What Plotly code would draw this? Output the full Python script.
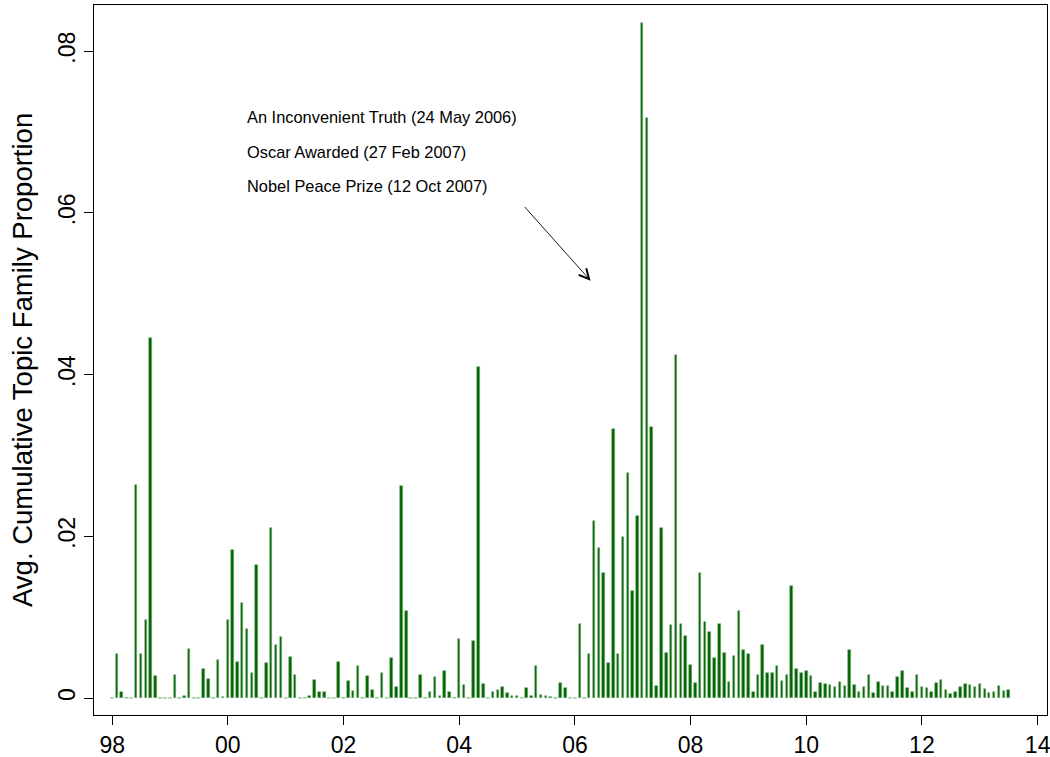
import pandas as pd
import plotly.graph_objects as go

# Monthly values, Jan 1998 .. Jul 2013 (one row per year)
values = [
    0, 0.0054, 0.00074, 0, 0, 0.0263, 0.0054, 0.0097, 0.0445, 0.0027, 0, 0,          # 1998
    0, 0.0029, 0, 0.0002, 0.0061, 0, 0, 0.0036, 0.0024, 0, 0.0047, 0.0001,           # 1999
    0.0097, 0.0183, 0.0045, 0.0118, 0.0085, 0.0031, 0.0165, 0, 0.0043, 0.0210, 0.0065, 0.0075,  # 2000
    0, 0.0051, 0.0028, 0, 0, 0.0003, 0.0022, 0.0007, 0.0007, 0, 0, 0.0045,           # 2001
    0, 0.0021, 0.0009, 0.0040, 0, 0.0027, 0.0010, 0, 0.0031, 0, 0.0050, 0.0014,      # 2002
    0.0262, 0.0108, 0, 0, 0.0029, 0, 0.0008, 0.0026, 0.0003, 0.0034, 0.0007, 0,      # 2003
    0.0073, 0.0016, 0, 0.0071, 0.0409, 0.0017, 0, 0.0007, 0.0010, 0.0014, 0.0006, 0.0003,  # 2004
    0.0003, 0, 0.0013, 0.0003, 0.0039, 0.0004, 0.0002, 0.0001, 0, 0.0019, 0.0013, 0,  # 2005
    0, 0.0091, 0, 0.0054, 0.0219, 0.0185, 0.0154, 0.0043, 0.0333, 0.0055, 0.0199, 0.0278,  # 2006
    0.0132, 0.0225, 0.0835, 0.0717, 0.0335, 0.0015, 0.0210, 0.0056, 0.0090, 0.0424, 0.0091, 0.0077,  # 2007
    0.0041, 0.0019, 0.0155, 0.0094, 0.0082, 0.0050, 0.0092, 0.0056, 0.0020, 0.0052, 0.0107, 0.0060,  # 2008
    0.0054, 0.0008, 0.0029, 0.0066, 0.0031, 0.0031, 0.0040, 0.0021, 0.0028, 0.0139, 0.0036, 0.0031,  # 2009
    0.0033, 0.0027, 0.0008, 0.0018, 0.0017, 0.0016, 0.0014, 0.0020, 0.0015, 0.0059, 0.0016, 0.0008,  # 2010
    0.0014, 0.0029, 0.0006, 0.0020, 0.0015, 0.0015, 0.0007, 0.0026, 0.0034, 0.0013, 0.0008, 0.0029,  # 2011
    0.0014, 0.0013, 0.0007, 0.0019, 0.0022, 0.0010, 0.0005, 0.0007, 0.0014, 0.0017, 0.0016, 0.0014,  # 2012
    0.0017, 0.0011, 0.0006, 0.0007, 0.0015, 0.0009, 0.0010,                          # 2013
]
months = pd.date_range("1998-01-01", periods=len(values), freq="MS")

x_tick_years = [1998, 2000, 2002, 2004, 2006, 2008, 2010, 2012, 2014]
x_tick_labels = ["98", "00", "02", "04", "06", "08", "10", "12", "14"]
y_tick_vals = [0, 0.02, 0.04, 0.06, 0.08]
y_tick_labels = ["0", ".02", ".04", ".06", ".08"]
y_title = "Avg. Cumulative Topic Family Proportion"

notes = [
    "An Inconvenient Truth (24 May 2006)",
    "Oscar Awarded (27 Feb 2007)",
    "Nobel Peace Prize (12 Oct 2007)",
]
note_y = [0.0719, 0.0675, 0.0633]

BAR = "#006400"
FONT = "Liberation Sans, Arial, sans-serif"

zero_months = [m for m, v in zip(months, values) if v == 0]

fig = go.Figure()
fig.add_trace(go.Bar(
    x=months, y=values,
    width=16 * 86400000,
    marker=dict(color=BAR, line=dict(width=0.6, color="#7fb27f")),
    showlegend=False,
))
fig.add_trace(go.Scatter(
    x=zero_months, y=[0] * len(zero_months), mode="markers",
    marker=dict(symbol="line-ew", size=3, line=dict(width=1, color="#9cc99c")),
    showlegend=False, hoverinfo="skip",
))

for t, yv in zip(notes, note_y):
    fig.add_annotation(x=pd.Timestamp("2000-04-20"), y=yv, text=t, showarrow=False,
                       xanchor="left", yanchor="middle",
                       font=dict(family=FONT, size=16.4, color="black"))

fig.add_annotation(x=pd.Timestamp("2006-04-10"), y=0.0516,
                   ax=pd.Timestamp("2005-02-10"), ay=0.0609,
                   xref="x", yref="y", axref="x", ayref="y",
                   text="", showarrow=True, arrowhead=5, arrowsize=2.2,
                   arrowwidth=0.9, arrowcolor="black")

# y-axis title placed relative to the plot's left edge
fig.add_annotation(xref="paper", yref="paper", x=0, y=0.5, xshift=-72,
                   text=y_title, textangle=-90, showarrow=False,
                   xanchor="center", yanchor="middle",
                   font=dict(family=FONT, size=27.5, color="black"))

fig.update_layout(
    width=1050, height=757,
    margin=dict(l=94, r=3, t=5, b=42, autoexpand=False),
    paper_bgcolor="white", plot_bgcolor="white",
    bargap=0,
    font=dict(family=FONT, color="black"),
    xaxis=dict(
        range=[pd.Timestamp("1997-09-08"), pd.Timestamp("2014-03-01")],
        tickvals=[pd.Timestamp(f"{y}-01-01") for y in x_tick_years],
        ticktext=x_tick_labels,
        ticks="outside", ticklen=9, tickwidth=1, tickcolor="black",
        tickfont=dict(size=23, family=FONT),
        ticklabeloverflow="allow",
        showgrid=False, zeroline=False,
        showline=True, linecolor="black", linewidth=1, mirror=True,
    ),
    yaxis=dict(
        range=[-0.0021, 0.0857],
        tickvals=y_tick_vals, ticktext=y_tick_labels,
        tickangle=-90,
        ticks="outside", ticklen=9, tickwidth=1, tickcolor="black",
        tickfont=dict(size=23, family=FONT),
        showgrid=False, zeroline=False,
        showline=True, linecolor="black", linewidth=1, mirror=True,
    ),
)

fig.write_html("out.html", config={"displayModeBar": False},
               post_script="document.body.style.margin='0';")
